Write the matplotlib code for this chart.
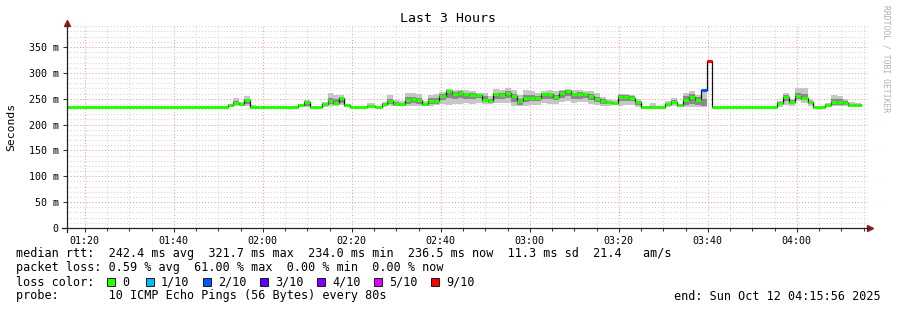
# smokeping_last3h.py
# Recreate the SmokePing "Last 3 Hours" latency graph with matplotlib

import matplotlib
matplotlib.use("Agg")
import matplotlib.pyplot as plt
from matplotlib.patches import Rectangle

# --- Data (minutes after midnight, latency in ms) ---

seg_start = [76.0, 112.2, 113.3, 114.7, 115.8, 117.1, 118.5, 120.0, 121.6, 127.9,
             129.3, 130.6, 133.3, 134.7, 135.8, 137.1, 138.2, 139.6, 143.4, 145.2,
             146.8, 147.9, 149.3, 150.6, 151.9, 153.3, 154.4, 155.8, 157.1, 158.5,
             159.6, 161.2, 162.5, 163.9, 165.0, 166.3, 167.9, 169.3, 170.6, 171.7,
             173.1, 174.4, 175.8, 177.1, 178.5, 179.8, 181.2, 182.5, 183.9, 185.2,
             186.6, 187.9, 189.3, 190.6, 192.0, 193.1, 194.4, 195.8, 197.1, 198.5,
             199.8, 200.9, 202.3, 203.6, 205.0, 207.0, 208.4, 210.4, 211.7, 213.1,
             214.4, 215.8, 217.1, 218.5, 219.8, 220.9, 235.6, 236.9, 238.2, 239.6,
             240.9, 242.5, 243.6, 246.3, 247.6, 249.0, 250.4, 251.5, 253.1]
data_end = 254.4

median = [234, 237, 242, 240, 248, 234, 234, 234, 234, 237,
          243, 234, 240, 246, 242, 251, 237, 234, 236, 234,
          240, 245, 240, 240, 247, 249, 247, 240, 245, 246,
          256, 264, 259, 261, 259, 258, 258, 248, 245, 259,
          258, 261, 256, 245, 252, 252, 252, 259, 259, 254,
          261, 264, 259, 259, 259, 256, 249, 246, 243, 242,
          254, 254, 252, 243, 234, 234, 234, 240, 244, 237,
          248, 254, 248, 266, 322, 234, 242, 254, 244, 256,
          251, 244, 234, 237, 243, 243, 242, 237, 237]

smoke_lo = [234, 234, 235, 235, 236, 234, 234, 234, 234, 234,
            234, 234, 234, 235, 236, 238, 234, 234, 234, 234,
            234, 236, 235, 236, 235, 235, 236, 236, 236, 238,
            240, 238, 239, 240, 241, 240, 242, 240, 240, 242,
            241, 242, 235, 235, 236, 238, 238, 242, 240, 240,
            244, 245, 242, 243, 244, 240, 237, 236, 236, 237,
            236, 238, 238, 234, 234, 234, 234, 234, 236, 234,
            234, 234, 234, 234, 322, 234, 234, 238, 236, 245,
            242, 236, 234, 234, 236, 236, 236, 234, 234]

smoke_hi = [234, 239, 251, 244, 256, 237, 234, 236, 234, 240,
            248, 234, 243, 262, 258, 258, 240, 234, 242, 234,
            244, 258, 247, 245, 261, 261, 259, 246, 258, 259,
            263, 269, 267, 267, 266, 264, 262, 262, 255, 269,
            266, 270, 266, 258, 266, 264, 262, 265, 266, 264,
            267, 268, 266, 267, 265, 264, 261, 254, 250, 247,
            260, 260, 258, 249, 234, 242, 234, 245, 251, 240,
            262, 264, 258, 266, 322, 234, 245, 261, 250, 270,
            271, 250, 234, 241, 258, 256, 250, 244, 242]

core_lo = [234, 237, 238, 238, 240, 234, 234, 234, 234, 236,
           236, 234, 238, 240, 238, 242, 235, 234, 235, 234,
           237, 239, 237, 238, 240, 241, 240, 238, 239, 240,
           248, 252, 250, 252, 250, 250, 251, 243, 242, 250,
           250, 252, 244, 238, 243, 245, 245, 250, 250, 247,
           252, 255, 250, 250, 252, 248, 243, 240, 239, 239,
           245, 246, 245, 238, 234, 234, 234, 237, 240, 235,
           238, 240, 238, 236, 322, 234, 238, 245, 239, 250,
           247, 239, 234, 235, 238, 238, 238, 235, 235]

core_hi = [234, 237, 246, 241, 250, 234, 234, 234, 234, 238,
           245, 234, 241, 252, 250, 253, 238, 234, 237, 234,
           241, 250, 244, 242, 253, 254, 252, 242, 251, 252,
           259, 266, 263, 264, 262, 261, 260, 255, 250, 262,
           261, 264, 260, 250, 258, 257, 256, 262, 262, 258,
           264, 266, 262, 263, 262, 259, 254, 249, 246, 244,
           257, 257, 255, 245, 234, 236, 234, 242, 247, 238,
           255, 259, 254, 250, 322, 234, 243, 257, 247, 262,
           260, 246, 234, 238, 250, 250, 245, 239, 238]

# packet loss per segment (index into loss legend below)
loss_idx = [0] * 73 + [2, 6] + [0] * 14

loss_labels = ["0", "1/10", "2/10", "3/10", "4/10", "5/10", "9/10"]
loss_colors = ["#26ff00", "#00b8ff", "#0059ff", "#5e00ff", "#7e00ff", "#dd00ff", "#ff0000"]

y_ticks = [0, 50, 100, 150, 200, 250, 300, 350]
y_tick_labels = ["0", "50 m", "100 m", "150 m", "200 m", "250 m", "300 m", "350 m"]
x_ticks = [80, 100, 120, 140, 160, 180, 200, 220, 240]
x_tick_labels = ["01:20", "01:40", "02:00", "02:20", "02:40", "03:00", "03:20", "03:40", "04:00"]

stat_lines = [
    "median rtt:  242.4 ms avg  321.7 ms max  234.0 ms min  236.5 ms now  11.3 ms sd  21.4   am/s",
    "packet loss: 0.59 % avg  61.00 % max  0.00 % min  0.00 % now",
]
probe_line = "probe:       10 ICMP Echo Pings (56 Bytes) every 80s"
end_line = "end: Sun Oct 12 04:15:56 2025"

# --- Setup ---

W, H = 897, 310
MONO = "DejaVu Sans Mono"
plt.rcParams["font.family"] = MONO

fig = plt.figure(figsize=(W / 100, H / 100), dpi=100)
fig.patch.set_facecolor("white")

def fx(x):
    return x / W

def fy(y):
    return 1 - y / H

ax = fig.add_axes([fx(67), fy(228), 801 / W, 202 / H])
ax.set_xlim(76.0, 256.0)
ax.set_ylim(0, 390.6)

# grid: minor grey dots, major red dots
ax.set_xticks(x_ticks)
ax.set_xticklabels(x_tick_labels)
ax.set_xticks([m for m in range(80, 256, 5)], minor=True)
ax.set_yticks(y_ticks)
ax.set_yticklabels(y_tick_labels)
ax.set_yticks([v for v in range(0, 391, 10)], minor=True)
ax.grid(which="minor", color="#d2d2d2", linestyle=(0, (1, 2)), linewidth=0.75)
ax.grid(which="major", color="#f09a9a", linestyle=(0, (1, 2)), linewidth=0.75)
ax.set_axisbelow(True)

ax.tick_params(which="major", length=3, width=0.75, color="#333333", labelsize=7.2, pad=3)
ax.tick_params(axis="x", which="minor", length=2, width=0.75, color="#333333")
ax.tick_params(axis="y", which="minor", length=0)
for s in ax.spines.values():
    s.set_visible(False)

# --- Smoke and median ---

xs = seg_start + [data_end]

def ext(v):
    return v + [v[-1]]

ax.fill_between(xs, ext(smoke_lo), ext(smoke_hi), step="post", color="#c6c6c6", linewidth=0, zorder=2)
ax.fill_between(xs, ext(core_lo), ext(core_hi), step="post", color="#8a8a8a", linewidth=0, zorder=3)

ax.step(xs, ext(median), where="post", color="#111111", linewidth=0.9, zorder=4)
seg_colors = [loss_colors[i] for i in loss_idx]
ax.hlines(median, seg_start, xs[1:], colors=seg_colors, linewidth=2.2, zorder=5)

# axis lines with arrows
ax.plot([-0.006, 1.0], [0, 0], transform=ax.transAxes, color="#222222", lw=0.9, clip_on=False, zorder=6)
ax.plot([0, 0], [-0.02, 1.0], transform=ax.transAxes, color="#222222", lw=0.9, clip_on=False, zorder=6)
ax.plot([1.003], [0], marker=">", markersize=4, color="#8b1a1a", transform=ax.transAxes, clip_on=False)
ax.plot([0], [1.015], marker="^", markersize=4, color="#8b1a1a", transform=ax.transAxes, clip_on=False)

# --- Text ---

fig.text(fx(448), fy(19), "Last 3 Hours", ha="center", va="center", fontsize=9.5)
fig.text(fx(11), fy(127), "Seconds", ha="center", va="center", rotation=90, fontsize=8.2)
fig.text(fx(886), fy(5), "RRDTOOL / TOBI OETIKER", ha="center", va="top", rotation=270,
         fontsize=5.8, color="#b0b0b0")

for i, line in enumerate(stat_lines):
    fig.text(fx(16), fy(254 + 14 * i), line, ha="left", va="center", fontsize=8.5)

fig.text(fx(16), fy(282), "loss color:", ha="left", va="center", fontsize=8.5)
bx = 107
for lab, col in zip(loss_labels, loss_colors):
    fig.patches.append(Rectangle((fx(bx), fy(286)), 8 / W, 8 / H, transform=fig.transFigure,
                                 facecolor=col, edgecolor="black", linewidth=0.6))
    fig.text(fx(bx + 15), fy(282), lab, ha="left", va="center", fontsize=8.5)
    bx += 33 + 6 * len(lab)

fig.text(fx(16), fy(296), probe_line, ha="left", va="center", fontsize=8.5)
fig.text(fx(881), fy(296), end_line, ha="right", va="center", fontsize=8.5)

fig.savefig("out.png", dpi=100, facecolor="white")
